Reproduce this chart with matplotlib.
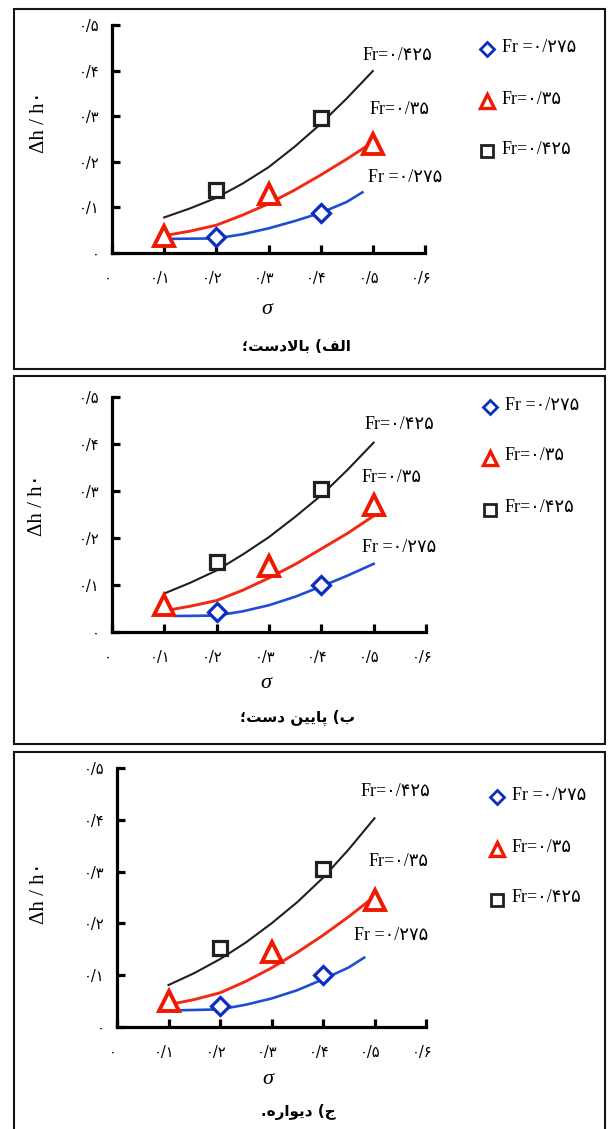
import matplotlib
matplotlib.use('Agg')
import matplotlib.pyplot as plt
from matplotlib.patches import Rectangle
from matplotlib.lines import Line2D
from matplotlib.transforms import ScaledTranslation

# ---------------- data ----------------
x_ticks = [0.0, 0.1, 0.2, 0.3, 0.4, 0.5, 0.6]
x_tick_labels = ['\u06F0', '\u06F0/\u06F1', '\u06F0/\u06F2', '\u06F0/\u06F3',
                 '\u06F0/\u06F4', '\u06F0/\u06F5', '\u06F0/\u06F6']
y_ticks = [0.0, 0.1, 0.2, 0.3, 0.4, 0.5]
y_tick_labels = ['\u06F0', '\u06F0/\u06F1', '\u06F0/\u06F2', '\u06F0/\u06F3',
                 '\u06F0/\u06F4', '\u06F0/\u06F5']

series_labels = ['Fr =\u06F0/\u06F2\u06F7\u06F5', 'Fr=\u06F0/\u06F3\u06F5',
                 'Fr=\u06F0/\u06F4\u06F2\u06F5']

# shaped (visual order) panel titles: "الف) بالادست؛", "ب) پایین دست؛", "ج) دیواره."
panel_titles = [
    '\u061B\uFE96\uFEB3\uFEA9\uFEFB\uFE8E\uFE91 (\uFED2\uFEDF\uFE8D',
    '\u061B\uFE96\uFEB3\uFEA9 \uFEE6\uFBFF\uFBFE\uFE8E\uFB58 (\uFE8F',
    '.\uFEE9\uFEAD\uFE8D\uFEEE\uFBFE\uFEA9 (\uFE9D',
]

# marker points
sigma_275 = [0.2, 0.4]
sigma_35 = [0.1, 0.3, 0.5]
sigma_425 = [0.2, 0.4]

up_275 = [0.034, 0.088]
up_35 = [0.038, 0.130, 0.240]
up_425 = [0.139, 0.297]

down_275 = [0.043, 0.101]
down_35 = [0.057, 0.140, 0.271]
down_425 = [0.150, 0.304]

wall_275 = [0.041, 0.100]
wall_35 = [0.050, 0.145, 0.245]
wall_425 = [0.153, 0.305]

# trend curves
curve_sigma = [0.1, 0.15, 0.2, 0.25, 0.3, 0.35, 0.4, 0.45, 0.5]

up_curve_425 = [0.078, 0.098, 0.121, 0.152, 0.188, 0.233, 0.283, 0.339, 0.399]
up_curve_35 = [0.038, 0.048, 0.061, 0.083, 0.108, 0.138, 0.171, 0.206, 0.243]
up_curve_275_sigma = [0.11, 0.2, 0.25, 0.3, 0.35, 0.4, 0.45, 0.48]
up_curve_275 = [0.031, 0.032, 0.041, 0.054, 0.070, 0.088, 0.112, 0.133]

down_curve_425 = [0.082, 0.105, 0.131, 0.165, 0.202, 0.245, 0.291, 0.345, 0.403]
down_curve_35 = [0.045, 0.055, 0.067, 0.089, 0.115, 0.144, 0.177, 0.210, 0.247]
down_curve_275_sigma = [0.12, 0.2, 0.25, 0.3, 0.35, 0.4, 0.45, 0.5]
down_curve_275 = [0.034, 0.035, 0.044, 0.057, 0.075, 0.097, 0.120, 0.145]

wall_curve_425 = [0.081, 0.104, 0.131, 0.163, 0.200, 0.241, 0.288, 0.343, 0.403]
wall_curve_35 = [0.043, 0.053, 0.066, 0.088, 0.114, 0.144, 0.177, 0.213, 0.252]
wall_curve_275_sigma = [0.11, 0.2, 0.25, 0.3, 0.35, 0.4, 0.45, 0.48]
wall_curve_275 = [0.032, 0.034, 0.043, 0.055, 0.071, 0.092, 0.115, 0.134]

# ---------------- style ----------------
W, H = 608, 1129
BLUE = '#0a2fc0'
BLUE_LINE = '#1e4fd0'
RED = '#f01800'
RED_LINE = '#f02a14'
BLACK = '#202020'
SERIF = ['Liberation Serif', 'DejaVu Sans']

fig = plt.figure(figsize=(W / 100, H / 100), dpi=100)


def fx(px):
    return px / W


def fy(py):
    return 1 - py / H


panels = [
    dict(box=(14, 9, 605, 369), ax=(112, 253, 425, 25),
         m=(up_275, up_35, up_425),
         c=(up_curve_275_sigma, up_curve_275, up_curve_35, up_curve_425),
         leg=(487, 502, [49, 101, 151]),
         lab=[(368, 178), (370, 110), (363, 56)],
         sig=(267, 310), ylab=(40, 122), title=(296, 346)),
    dict(box=(14, 376, 605, 744), ax=(112, 632, 426, 397),
         m=(down_275, down_35, down_425),
         c=(down_curve_275_sigma, down_curve_275, down_curve_35, down_curve_425),
         leg=(490, 505, [407, 458, 510]),
         lab=[(362, 548), (362, 477), (365, 425)],
         sig=(266, 684), ylab=(38, 505), title=(298, 718)),
    dict(box=(14, 752, 605, 1140), ax=(117, 1027, 426, 768),
         m=(wall_275, wall_35, wall_425),
         c=(wall_curve_275_sigma, wall_curve_275, wall_curve_35, wall_curve_425),
         leg=(497, 512, [797, 849, 900]),
         lab=[(354, 936), (369, 861), (361, 792)],
         sig=(268, 1080), ylab=(39, 893), title=(298, 1112)),
]

for i, p in enumerate(panels):
    l, t, r, b = p['box']
    fig.add_artist(Rectangle((fx(l), fy(b)), fx(r) - fx(l), fy(t) - fy(b),
                             transform=fig.transFigure, fill=False,
                             lw=1.5, ec='#151515'))
    x0, y0, x1, y1 = p['ax']
    ax = fig.add_axes([fx(x0), fy(y0), fx(x1) - fx(x0), fy(y1) - fy(y0)])
    ax.set_xlim(0, 0.6)
    ax.set_ylim(0, 0.5)
    for s in ['top', 'right']:
        ax.spines[s].set_visible(False)
    for s in ['left', 'bottom']:
        ax.spines[s].set_linewidth(2.3)
        ax.spines[s].set_color('black')
    ax.set_xticks(x_ticks)
    ax.set_xticklabels(x_tick_labels, family='DejaVu Sans', fontsize=10.5)
    ax.set_yticks(y_ticks)
    ax.set_yticklabels(y_tick_labels, family='DejaVu Sans', fontsize=10.5)
    ax.tick_params(direction='in', length=6, width=2.3, color='black')
    ax.tick_params(axis='x', pad=13)
    ax.tick_params(axis='y', pad=9)
    off = ScaledTranslation(-4 / 100, 0, fig.dpi_scale_trans)
    for lab in ax.get_xticklabels():
        lab.set_transform(lab.get_transform() + off)
    ax.patch.set_alpha(0)

    m275, m35, m425 = p['m']
    cs275, c275, c35, c425 = p['c']
    ax.plot(curve_sigma, c425, color=BLACK, lw=1.5, zorder=2)
    ax.plot(curve_sigma, c35, color=RED_LINE, lw=2.1, zorder=2)
    ax.plot(cs275, c275, color=BLUE_LINE, lw=1.9, zorder=2)

    ax.plot(sigma_425, m425, ls='none', marker='s', ms=9.5, mfc='white',
            mec=BLACK, mew=2.3, zorder=4, clip_on=False)
    ax.plot(sigma_35, m35, ls='none', marker='^', ms=14, mfc='white',
            mec=RED, mew=2.8, zorder=4, clip_on=False)
    ax.plot(sigma_275, m275, ls='none', marker='D', ms=9.5, mfc='white',
            mec=BLUE, mew=2.3, zorder=4, clip_on=False)

    # curve labels
    for (lx, ly), txt in zip(p['lab'], series_labels):
        fig.text(fx(lx), fy(ly), txt, family=SERIF, fontsize=13,
                 ha='left', va='center')

    # legend
    mx, tx, ys = p['leg']
    specs = [('D', 7, BLUE, 2.0), ('^', 10, RED, 2.4), ('s', 8.5, BLACK, 2.0)]
    for (mk, ms, col, mew), yy, txt in zip(specs, ys, series_labels):
        fig.add_artist(Line2D([fx(mx)], [fy(yy)], transform=fig.transFigure,
                              marker=mk, ms=ms, mfc='white', mec=col, mew=mew,
                              ls='none'))
        fig.text(fx(tx), fy(yy - 2), txt, family=SERIF, fontsize=13,
                 ha='left', va='center')

    sx, sy = p['sig']
    fig.text(fx(sx), fy(sy), '\u03C3', family=SERIF, style='italic',
             fontsize=16, ha='center', va='center')
    yx, yy = p['ylab']
    fig.text(fx(yx), fy(yy), '\u0394h / h\u06F0', family=SERIF, fontsize=15,
             rotation=90, ha='center', va='center')
    tx2, ty2 = p['title']
    fig.text(fx(tx2), fy(ty2), panel_titles[i], family='DejaVu Sans',
             fontweight='bold', fontsize=11, ha='center', va='center')

fig.savefig('out.png', dpi=100)
